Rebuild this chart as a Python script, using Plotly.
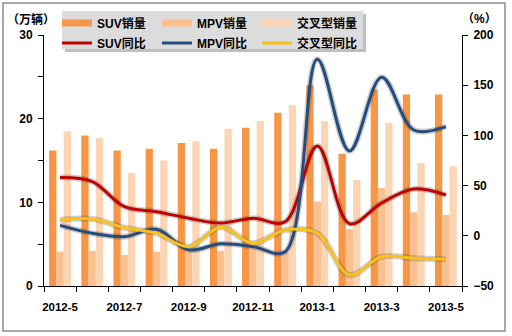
import plotly.graph_objects as go

# ---------------- data ----------------
months = ["2012-5", "2012-6", "2012-7", "2012-8", "2012-9", "2012-10", "2012-11",
          "2012-12", "2013-1", "2013-2", "2013-3", "2013-4", "2013-5"]
suv_sales = [16.2, 18.0, 16.2, 16.4, 17.1, 16.4, 18.9, 20.7, 24.0, 15.8, 23.5, 22.9, 22.9]
mpv_sales = [4.1, 4.2, 3.7, 4.1, 4.3, 4.2, 4.5, 4.1, 10.1, 6.8, 11.7, 8.8, 8.5]
cross_sales = [18.5, 17.7, 13.5, 15.0, 17.3, 18.8, 19.7, 21.6, 19.7, 12.7, 19.5, 14.7, 14.3]
suv_yoy = [58, 54, 29, 24, 17.5, 12.7, 17.5, 14, 89.5, 12, 32.7, 46.6, 40.6]
mpv_yoy = [10.4, 2.5, -0.9, 6.5, -14, -8, -10.8, -15.8, 175.8, 84.5, 158, 105.4, 108.7]
cross_yoy = [15.7, 16.7, 8, 2.5, -10.8, 8.4, -7.5, 5.8, 2.5, -39, -20.8, -22.4, -23.4]
left_ticks = [0, 10, 20, 30]
right_ticks = [-50, 0, 50, 100, 150, 200]

# ---------------- geometry / style ----------------
W, H = 512, 336
L, R, T, B = 44, 50, 35, 50
pw, ph = W - L - R, H - T - B


def px_x(x):
    return (x - L) / pw


def px_y(y):
    return (H - B - y) / ph


FONT = "Arial, 'Liberation Sans', 'Noto Sans CJK SC', sans-serif"
C_SUV, C_MPV, C_CROSS = "#F79646", "#FAC08F", "#FCD5B5"
L_SUV, L_MPV, L_CROSS = "#C00000", "#244C7E", "#F8C11C"

idx = list(range(len(months)))

fig = go.Figure()

# bars
for name, vals, col in [("SUV销量", suv_sales, C_SUV),
                        ("MPV销量", mpv_sales, C_MPV),
                        ("交叉型销量", cross_sales, C_CROSS)]:
    fig.add_trace(go.Bar(x=idx, y=vals, name=name, marker=dict(color=col, line=dict(width=0)),
                         showlegend=False, hoverinfo="skip"))

# line shadows
for vals in [suv_yoy, mpv_yoy, cross_yoy]:
    fig.add_trace(go.Scatter(x=idx, y=vals, yaxis="y2", mode="lines",
                             line=dict(color="rgba(60,60,60,0.25)", width=6, shape="spline", smoothing=1),
                             showlegend=False, hoverinfo="skip"))

# lines
for name, vals, col in [("SUV同比", suv_yoy, L_SUV),
                        ("MPV同比", mpv_yoy, L_MPV),
                        ("交叉型同比", cross_yoy, L_CROSS)]:
    fig.add_trace(go.Scatter(x=idx, y=vals, yaxis="y2", mode="lines", name=name,
                             line=dict(color=col, width=3, shape="spline", smoothing=1),
                             legend="legend2"))

# legend entries for the bars (wide swatches)
for name, col in [("SUV销量", C_SUV), ("MPV销量", C_MPV), ("交叉型销量", C_CROSS)]:
    fig.add_trace(go.Scatter(x=[None], y=[None], mode="lines", name=name,
                             line=dict(color=col, width=7), legend="legend"))

leg_common = dict(orientation="h", xanchor="left", yanchor="middle",
                  entrywidth=55, entrywidthmode="pixels", itemwidth=30,
                  bgcolor="rgba(0,0,0,0)", borderwidth=0,
                  font=dict(family=FONT, size=12, color="black", weight="bold"))

shapes = [
    # outer border
    dict(type="rect", xref="paper", yref="paper", x0=px_x(3), x1=px_x(505), y0=px_y(331), y1=px_y(3),
         line=dict(color="#8C8C8C", width=1.5), fillcolor="rgba(0,0,0,0)", layer="below"),
    # legend shadow
    dict(type="rect", xref="paper", yref="paper", x0=px_x(65), x1=px_x(366), y0=px_y(52), y1=px_y(14),
         line=dict(width=0), fillcolor="rgba(0,0,0,0.25)", layer="above"),
    # legend background
    dict(type="rect", xref="paper", yref="paper", x0=px_x(62), x1=px_x(363), y0=px_y(49), y1=px_y(11),
         line=dict(width=0), fillcolor="#DCDCDC", layer="above"),
]

fig.update_layout(
    width=W, height=H,
    margin=dict(l=L, r=R, t=T, b=B, autoexpand=False),
    paper_bgcolor="white", plot_bgcolor="white",
    barmode="group", bargap=0.32, bargroupgap=0,
    font=dict(family=FONT, size=11, color="black"),
    legend=dict(x=px_x(57), y=px_y(23), **leg_common),
    legend2=dict(x=px_x(57), y=px_y(43), **leg_common),
    xaxis=dict(range=[-0.5, len(months) - 0.5], tickmode="array",
               tickvals=idx[::2], ticktext=months[::2], ticks="",
               ticklabelstandoff=10,
               tickfont=dict(family=FONT, size=11.5, color="black", weight="bold"),
               showline=True, linecolor="black", linewidth=1, showgrid=False, zeroline=False,
               minor=dict(tick0=-0.5, dtick=1, ticks="outside", ticklen=5, tickcolor="black",
                          showgrid=False)),
    yaxis=dict(range=[0, 30], tickmode="array", tickvals=left_ticks, ticks="outside", ticklen=5,
               tickcolor="black", showline=True, linecolor="black", linewidth=1,
               showgrid=False, zeroline=False, ticklabelstandoff=3,
               tickfont=dict(family=FONT, size=12, color="black", weight="bold"),
               minor=dict(dtick=5, ticks="outside", ticklen=5, tickcolor="black", showgrid=False)),
    yaxis2=dict(range=[-50, 200], tickmode="array", tickvals=right_ticks, overlaying="y", side="right",
                ticks="outside", ticklen=5, tickcolor="black", showline=True, linecolor="black",
                linewidth=1, showgrid=False, zeroline=False, ticklabelstandoff=3,
                tickfont=dict(family=FONT, size=12, color="black", weight="bold")),
    shapes=shapes,
    annotations=[
        dict(text="（万辆）", xref="paper", yref="paper", x=px_x(31), y=px_y(19), showarrow=False,
             font=dict(family=FONT, size=12, color="black", weight="bold"), xanchor="center", yanchor="middle"),
        dict(text="（%）", xref="paper", yref="paper", x=px_x(480), y=px_y(19), showarrow=False,
             font=dict(family=FONT, size=12, color="black", weight="bold"), xanchor="center", yanchor="middle"),
    ],
)

fig.write_html("out.html")
